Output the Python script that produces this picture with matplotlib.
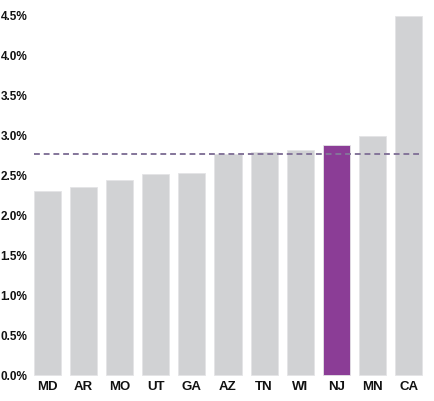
import matplotlib
matplotlib.use("Agg")
import matplotlib.pyplot as plt
from matplotlib.ticker import FuncFormatter

states = ['MD', 'AR', 'MO', 'UT', 'GA', 'AZ', 'TN', 'WI', 'NJ', 'MN', 'CA']
rates = [2.31, 2.36, 2.45, 2.52, 2.53, 2.77, 2.79, 2.82, 2.88, 3.00, 4.50]
highlight = 'NJ'
average = 2.77

plt.rcParams['font.family'] = ['Liberation Sans', 'DejaVu Sans']

fig = plt.figure(figsize=(4.34, 4.01), dpi=100)
ax = fig.add_axes([29 / 434, 26 / 401, 398 / 434, 359 / 401])

colors = ['#8b3d96' if s == highlight else '#d1d2d4' for s in states]
ax.bar(range(len(states)), rates, width=0.75, color=colors, edgecolor='#e4e4e6', linewidth=0.6, clip_on=False)

ax.hlines(average, -0.375, len(states) - 1 + 0.375, colors='#84759a', linestyles=(0, (3, 2)), linewidth=1.4, zorder=3)

ax.set_xlim(-0.5, len(states) - 0.5)
ax.set_ylim(0, 4.5)
ax.set_yticks([i * 0.5 for i in range(10)])
ax.yaxis.set_major_formatter(FuncFormatter(lambda v, p: f'{v:.1f}%'))
ax.set_xticks(range(len(states)))
ax.set_xticklabels(states)

for s in ax.spines.values():
    s.set_visible(False)
ax.tick_params(axis='both', length=0, colors='#111111')
ax.tick_params(axis='x', pad=4, labelsize=9.5)
ax.tick_params(axis='y', pad=1, labelsize=8.5)
for lab in ax.get_xticklabels() + ax.get_yticklabels():
    lab.set_fontweight('bold')

fig.savefig('out.png', dpi=100)
